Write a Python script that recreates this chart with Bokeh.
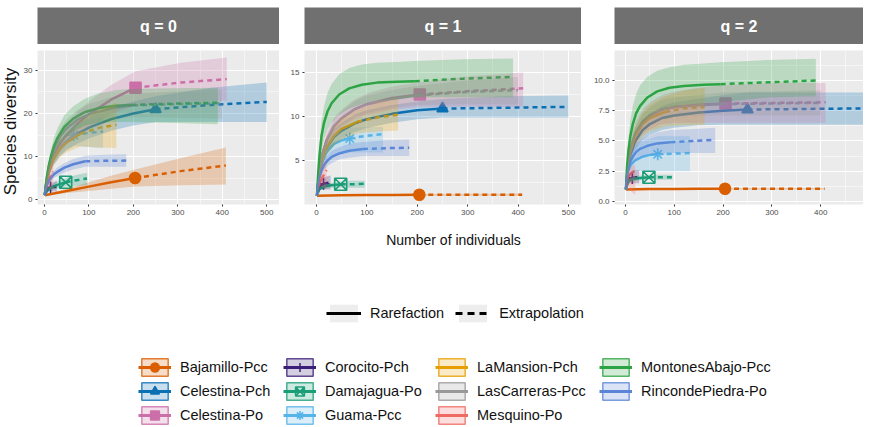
import math
from bokeh.plotting import figure
from bokeh.layouts import row, column
from bokeh.models import (Range1d, FixedTicker, NumeralTickFormatter, Label,
                          Legend, LegendItem, Spacer)
from bokeh.embed import file_html
from bokeh.resources import INLINE

FONT = "Liberation Sans"

# ---------------- data ----------------
site_names = ["Bajamillo-Pcc", "Celestina-Pch", "Celestina-Po", "Corocito-Pch",
              "Damajagua-Po", "Guama-Pcc", "LaMansion-Pch", "LasCarreras-Pcc",
              "Mesquino-Po", "MontonesAbajo-Pcc", "RincondePiedra-Po"]
site_colors = ["#D95F02", "#0B6FB3", "#CC6FA8", "#3B1F78", "#1B9E77", "#56B4E9",
               "#E69F00", "#999999", "#EF6A63", "#2CA443", "#5B84D6"]
site_markers = ["circle", "triangle", "square", "cross", "square_x", "asterisk",
                None, None, None, None, None]
n_observed = [204, 250, 205, 14, 48, 66, 81, 200, 10, 195, 92]

bajamillo_m = [1, 50, 100, 150, 204, 306, 408]
bajamillo_q0 = [1, 2.0, 3.0, 4.0, 5.0, 6.6, 7.9]
bajamillo_q0_lo = [1, 1.5, 2.0, 2.5, 3.0, 3.3, 3.5]
bajamillo_q0_hi = [1, 2.5, 4.0, 5.5, 7.0, 9.6, 12.1]
bajamillo_q1 = [1, 1.05, 1.07, 1.09, 1.1, 1.1, 1.1]
bajamillo_q1_lo = [1, 1.0, 1.0, 1.0, 1.0, 1.0, 1.0]
bajamillo_q1_hi = [1, 1.1, 1.14, 1.17, 1.2, 1.22, 1.24]
bajamillo_q2 = [1, 1.03, 1.04, 1.05, 1.05, 1.05, 1.05]
bajamillo_q2_lo = [1, 1.0, 1.0, 1.0, 1.0, 1.0, 1.0]
bajamillo_q2_hi = [1, 1.06, 1.08, 1.1, 1.1, 1.11, 1.12]

celpch_m = [1, 5, 10, 20, 35, 50, 75, 100, 150, 200, 250, 375, 500]
celpch_q0 = [1, 4.0, 6.5, 9.5, 12.0, 13.5, 15.3, 16.7, 18.7, 20.0, 21.0, 22.0, 22.7]
celpch_q0_lo = [1, 3.3, 5.5, 8.0, 10.2, 11.5, 13.0, 14.2, 16.0, 17.2, 18.0, 18.0, 18.0]
celpch_q0_hi = [1, 4.7, 7.5, 11.0, 13.8, 15.5, 17.6, 19.2, 21.4, 22.8, 24.0, 26.0, 27.2]
celpch_q1 = [1, 3.3, 4.8, 6.4, 7.7, 8.4, 9.2, 9.7, 10.3, 10.7, 10.9, 11.0, 11.1]
celpch_q1_lo = [1, 2.9, 4.2, 5.6, 6.8, 7.5, 8.2, 8.7, 9.3, 9.7, 9.9, 9.9, 9.9]
celpch_q1_hi = [1, 3.7, 5.4, 7.2, 8.6, 9.3, 10.2, 10.7, 11.3, 11.7, 12.0, 12.3, 12.4]
celpch_q2 = [1, 2.8, 3.9, 5.0, 5.9, 6.4, 6.9, 7.1, 7.35, 7.5, 7.6, 7.65, 7.7]
celpch_q2_lo = [1, 2.4, 3.3, 4.3, 5.1, 5.5, 5.9, 6.1, 6.3, 6.35, 6.35, 6.35, 6.35]
celpch_q2_hi = [1, 3.2, 4.5, 5.7, 6.7, 7.3, 7.9, 8.2, 8.5, 8.8, 9.0, 9.0, 9.0]

celpo_m = [1, 5, 10, 20, 35, 50, 75, 100, 150, 205, 307, 410]
celpo_q0 = [1, 4.2, 6.8, 10.0, 13.0, 15.0, 17.7, 19.8, 23.2, 26.0, 27.2, 28.0]
celpo_q0_lo = [1, 3.5, 5.7, 8.5, 11.0, 12.8, 15.0, 16.8, 19.8, 22.0, 22.5, 23.0]
celpo_q0_hi = [1, 4.9, 7.9, 11.5, 15.0, 17.2, 20.4, 22.8, 26.6, 29.8, 31.8, 33.0]
celpo_q1 = [1, 3.6, 5.4, 7.3, 8.9, 9.8, 10.8, 11.4, 12.1, 12.5, 12.9, 13.2]
celpo_q1_lo = [1, 3.2, 4.8, 6.5, 7.9, 8.8, 9.7, 10.2, 10.8, 11.1, 11.1, 11.1]
celpo_q1_hi = [1, 4.0, 6.0, 8.1, 9.9, 10.8, 11.9, 12.6, 13.4, 13.9, 14.6, 15.0]
celpo_q2 = [1, 3.0, 4.3, 5.6, 6.6, 7.1, 7.6, 7.8, 8.0, 8.1, 8.15, 8.2]
celpo_q2_lo = [1, 2.5, 3.6, 4.7, 5.6, 6.0, 6.4, 6.5, 6.5, 6.5, 6.5, 6.5]
celpo_q2_hi = [1, 3.5, 5.0, 6.5, 7.6, 8.2, 8.8, 9.1, 9.4, 9.6, 9.8, 9.8]

corocito_m = [1, 4, 7, 10, 14, 21, 28]
corocito_q0 = [1, 1.8, 2.3, 2.6, 2.8, 3.0, 3.1]
corocito_q0_lo = [1, 1.3, 1.7, 1.9, 2.0, 1.9, 1.8]
corocito_q0_hi = [1, 2.3, 2.9, 3.3, 3.6, 4.1, 4.4]
corocito_q1 = [1, 1.7, 2.0, 2.2, 2.35, 2.45, 2.5]
corocito_q1_lo = [1, 1.4, 1.6, 1.7, 1.7, 1.7, 1.7]
corocito_q1_hi = [1, 2.0, 2.5, 2.8, 3.0, 3.2, 3.3]
corocito_q2 = [1, 1.6, 1.8, 1.9, 1.95, 2.0, 2.0]
corocito_q2_lo = [1, 1.3, 1.45, 1.5, 1.5, 1.5, 1.5]
corocito_q2_hi = [1, 1.9, 2.2, 2.4, 2.5, 2.6, 2.6]

damajagua_m = [1, 5, 10, 20, 30, 48, 72, 96]
damajagua_q0 = [1, 1.9, 2.4, 3.0, 3.4, 4.0, 4.5, 4.9]
damajagua_q0_lo = [1, 1.5, 1.9, 2.3, 2.6, 3.0, 3.2, 3.3]
damajagua_q0_hi = [1, 2.3, 2.9, 3.7, 4.2, 5.0, 5.7, 6.2]
damajagua_q1 = [1, 1.7, 1.9, 2.1, 2.2, 2.3, 2.3, 2.35]
damajagua_q1_lo = [1, 1.5, 1.7, 1.8, 1.9, 1.9, 1.9, 1.9]
damajagua_q1_hi = [1, 1.9, 2.2, 2.4, 2.5, 2.6, 2.7, 2.7]
damajagua_q2 = [1, 1.6, 1.8, 1.9, 1.95, 2.0, 2.0, 2.0]
damajagua_q2_lo = [1, 1.45, 1.6, 1.7, 1.75, 1.8, 1.8, 1.8]
damajagua_q2_hi = [1, 1.75, 2.0, 2.1, 2.15, 2.2, 2.2, 2.2]

guama_m = [1, 5, 10, 20, 35, 50, 66, 99, 132]
guama_q0 = [1, 4.0, 6.3, 9.2, 11.8, 13.6, 15.0, 15.5, 15.8]
guama_q0_lo = [1, 3.4, 5.4, 7.9, 10.1, 11.5, 12.5, 12.2, 12.0]
guama_q0_hi = [1, 4.6, 7.2, 10.5, 13.5, 15.7, 17.5, 18.5, 19.2]
guama_q1 = [1, 3.3, 4.7, 6.0, 6.9, 7.3, 7.5, 7.8, 8.0]
guama_q1_lo = [1, 2.9, 4.0, 5.0, 5.6, 5.8, 5.9, 5.9, 5.9]
guama_q1_hi = [1, 3.7, 5.4, 7.0, 8.0, 8.5, 8.7, 8.8, 8.8]
guama_q2 = [1, 2.5, 3.0, 3.4, 3.7, 3.85, 3.9, 3.95, 4.0]
guama_q2_lo = [1, 2.1, 2.4, 2.5, 2.5, 2.5, 2.5, 2.5, 2.5]
guama_q2_hi = [1, 2.9, 3.8, 4.5, 5.0, 5.2, 5.4, 5.4, 5.4]

lamansion_m = [1, 5, 10, 20, 35, 50, 81, 121, 162]
lamansion_q0 = [1, 4.0, 6.5, 9.3, 11.8, 13.3, 15.3, 16.6, 17.4]
lamansion_q0_lo = [1, 3.3, 5.4, 7.8, 9.8, 11.0, 12.3, 12.1, 12.0]
lamansion_q0_hi = [1, 4.7, 7.6, 10.8, 13.8, 15.6, 18.3, 20.8, 22.5]
lamansion_q1 = [1, 3.3, 4.9, 6.5, 7.8, 8.6, 9.4, 9.9, 10.2]
lamansion_q1_lo = [1, 2.9, 4.3, 5.7, 6.8, 7.4, 8.1, 8.3, 8.4]
lamansion_q1_hi = [1, 3.7, 5.5, 7.3, 8.8, 9.8, 10.8, 11.6, 12.0]
lamansion_q2 = [1, 2.9, 4.1, 5.4, 6.4, 6.9, 7.4, 7.7, 7.8]
lamansion_q2_lo = [1, 2.5, 3.5, 4.6, 5.4, 5.8, 6.2, 6.3, 6.35]
lamansion_q2_hi = [1, 3.3, 4.7, 6.2, 7.4, 8.0, 8.7, 9.2, 9.4]

lascarreras_m = [1, 5, 10, 20, 35, 50, 75, 100, 150, 200, 300, 400]
lascarreras_q0 = [1, 4.8, 7.8, 11.4, 14.6, 16.5, 18.6, 19.8, 21.2, 21.9, 22.2, 22.4]
lascarreras_q0_lo = [1, 4.2, 6.8, 10.0, 12.8, 14.4, 16.3, 17.4, 18.6, 19.2, 19.0, 18.8]
lascarreras_q0_hi = [1, 5.4, 8.8, 12.8, 16.4, 18.6, 20.9, 22.2, 23.8, 24.6, 25.2, 25.6]
lascarreras_q1 = [1, 3.6, 5.4, 7.3, 8.9, 9.8, 10.8, 11.4, 12.0, 12.4, 12.8, 13.0]
lascarreras_q1_lo = [1, 3.3, 5.0, 6.8, 8.2, 9.0, 9.9, 10.4, 11.0, 11.3, 11.4, 11.4]
lascarreras_q1_hi = [1, 3.9, 5.8, 7.8, 9.6, 10.6, 11.7, 12.4, 13.0, 13.5, 14.1, 14.5]
lascarreras_q2 = [1, 3.0, 4.3, 5.6, 6.6, 7.1, 7.6, 7.8, 7.95, 8.05, 8.1, 8.15]
lascarreras_q2_lo = [1, 2.7, 3.9, 5.1, 6.0, 6.4, 6.8, 7.0, 7.1, 7.1, 7.1, 7.1]
lascarreras_q2_hi = [1, 3.3, 4.7, 6.1, 7.2, 7.8, 8.4, 8.6, 8.8, 9.0, 9.1, 9.2]

mesquino_m = [1, 3, 6, 10, 15, 20]
mesquino_q0 = [1, 2.4, 3.6, 4.5, 5.6, 6.5]
mesquino_q0_lo = [1, 1.7, 2.3, 2.6, 2.2, 1.6]
mesquino_q0_hi = [1, 3.1, 4.9, 6.4, 8.2, 9.8]
mesquino_q1 = [1, 2.0, 2.5, 2.9, 3.4, 3.9]
mesquino_q1_lo = [1, 1.6, 1.9, 2.0, 1.9, 1.8]
mesquino_q1_hi = [1, 2.4, 3.1, 3.8, 4.7, 5.6]
mesquino_q2 = [1, 1.8, 2.1, 2.3, 2.45, 2.55]
mesquino_q2_lo = [1, 1.3, 1.2, 0.9, 0.7, 0.55]
mesquino_q2_hi = [1, 2.2, 2.6, 2.8, 3.0, 3.0]

montones_m = [1, 3, 6, 10, 15, 22, 30, 45, 65, 90, 120, 160, 195, 292, 390]
montones_q0 = [1, 3.0, 5.3, 7.8, 10.1, 12.5, 14.4, 16.9, 18.8, 20.3, 21.2, 21.8, 22.0, 22.3, 22.5]
montones_q0_lo = [1, 2.6, 4.5, 6.6, 8.5, 10.5, 12.1, 14.2, 15.9, 17.2, 17.8, 18.0, 18.0, 17.8, 17.5]
montones_q0_hi = [1, 3.4, 6.1, 9.0, 11.7, 14.5, 16.7, 19.6, 21.7, 23.4, 24.6, 25.4, 25.7, 25.9, 26.0]
montones_q1 = [1, 3.3, 5.6, 7.8, 9.3, 10.6, 11.5, 12.5, 13.2, 13.6, 13.85, 13.95, 14.0, 14.3, 14.5]
montones_q1_lo = [1, 2.6, 4.4, 6.1, 7.4, 8.5, 9.3, 10.2, 10.9, 11.4, 11.8, 12.0, 12.2, 12.2, 12.2]
montones_q1_hi = [1, 4.0, 6.8, 9.5, 11.2, 12.7, 13.7, 14.8, 15.5, 15.9, 16.1, 16.2, 16.3, 16.5, 16.6]
montones_q2 = [1, 2.8, 4.2, 5.4, 6.4, 7.3, 7.9, 8.6, 9.1, 9.4, 9.55, 9.65, 9.7, 9.85, 10.0]
montones_q2_lo = [1, 2.2, 3.2, 4.1, 4.9, 5.7, 6.2, 6.9, 7.5, 7.8, 8.0, 8.1, 8.2, 8.6, 8.7]
montones_q2_hi = [1, 3.4, 5.2, 6.7, 7.9, 8.9, 9.6, 10.3, 10.8, 11.1, 11.3, 11.4, 11.5, 11.7, 11.8]

rincon_m = [1, 3, 6, 10, 15, 22, 30, 45, 65, 92, 138, 184]
rincon_q0 = [1, 2.3, 3.4, 4.3, 5.1, 5.9, 6.5, 7.4, 8.2, 8.9, 9.0, 9.05]
rincon_q0_lo = [1, 2.0, 2.9, 3.6, 4.3, 5.0, 5.5, 6.3, 7.0, 7.6, 7.6, 7.6]
rincon_q0_hi = [1, 2.6, 3.9, 5.0, 5.9, 6.8, 7.5, 8.5, 9.4, 10.2, 10.4, 10.5]
rincon_q1 = [1, 2.2, 3.1, 3.9, 4.5, 5.0, 5.4, 5.8, 6.1, 6.3, 6.4, 6.45]
rincon_q1_lo = [1, 1.9, 2.7, 3.4, 3.9, 4.4, 4.7, 5.1, 5.3, 5.5, 5.5, 5.5]
rincon_q1_hi = [1, 2.5, 3.5, 4.4, 5.1, 5.6, 6.1, 6.5, 6.9, 7.1, 7.3, 7.4]
rincon_q2 = [1, 2.0, 2.7, 3.3, 3.7, 4.1, 4.35, 4.6, 4.8, 4.9, 5.0, 5.1]
rincon_q2_lo = [1, 1.7, 2.3, 2.7, 3.1, 3.4, 3.6, 3.8, 3.9, 4.0, 4.0, 4.0]
rincon_q2_hi = [1, 2.3, 3.1, 3.9, 4.4, 4.8, 5.1, 5.4, 5.7, 5.9, 6.0, 6.1]

x_ticks = [0, 100, 200, 300, 400, 500]
x_minor = [50, 150, 250, 350, 450]
q_labels = ["q = 0", "q = 1", "q = 2"]
y_ticks = [[0, 10, 20, 30], [5, 10, 15], [0, 2.5, 5.0, 7.5, 10.0]]
y_minor = [[5, 15, 25], [2.5, 7.5, 12.5], [1.25, 3.75, 6.25, 8.75, 11.25]]
x_title = "Number of individuals"
y_title = "Species diversity"
linetype_labels = ["Rarefaction", "Extrapolation"]

site_m = [bajamillo_m, celpch_m, celpo_m, corocito_m, damajagua_m, guama_m,
          lamansion_m, lascarreras_m, mesquino_m, montones_m, rincon_m]
site_q = [
    [(bajamillo_q0, bajamillo_q0_lo, bajamillo_q0_hi), (bajamillo_q1, bajamillo_q1_lo, bajamillo_q1_hi), (bajamillo_q2, bajamillo_q2_lo, bajamillo_q2_hi)],
    [(celpch_q0, celpch_q0_lo, celpch_q0_hi), (celpch_q1, celpch_q1_lo, celpch_q1_hi), (celpch_q2, celpch_q2_lo, celpch_q2_hi)],
    [(celpo_q0, celpo_q0_lo, celpo_q0_hi), (celpo_q1, celpo_q1_lo, celpo_q1_hi), (celpo_q2, celpo_q2_lo, celpo_q2_hi)],
    [(corocito_q0, corocito_q0_lo, corocito_q0_hi), (corocito_q1, corocito_q1_lo, corocito_q1_hi), (corocito_q2, corocito_q2_lo, corocito_q2_hi)],
    [(damajagua_q0, damajagua_q0_lo, damajagua_q0_hi), (damajagua_q1, damajagua_q1_lo, damajagua_q1_hi), (damajagua_q2, damajagua_q2_lo, damajagua_q2_hi)],
    [(guama_q0, guama_q0_lo, guama_q0_hi), (guama_q1, guama_q1_lo, guama_q1_hi), (guama_q2, guama_q2_lo, guama_q2_hi)],
    [(lamansion_q0, lamansion_q0_lo, lamansion_q0_hi), (lamansion_q1, lamansion_q1_lo, lamansion_q1_hi), (lamansion_q2, lamansion_q2_lo, lamansion_q2_hi)],
    [(lascarreras_q0, lascarreras_q0_lo, lascarreras_q0_hi), (lascarreras_q1, lascarreras_q1_lo, lascarreras_q1_hi), (lascarreras_q2, lascarreras_q2_lo, lascarreras_q2_hi)],
    [(mesquino_q0, mesquino_q0_lo, mesquino_q0_hi), (mesquino_q1, mesquino_q1_lo, mesquino_q1_hi), (mesquino_q2, mesquino_q2_lo, mesquino_q2_hi)],
    [(montones_q0, montones_q0_lo, montones_q0_hi), (montones_q1, montones_q1_lo, montones_q1_hi), (montones_q2, montones_q2_lo, montones_q2_hi)],
    [(rincon_q0, rincon_q0_lo, rincon_q0_hi), (rincon_q1, rincon_q1_lo, rincon_q1_hi), (rincon_q2, rincon_q2_lo, rincon_q2_hi)],
]

# ---------------- layout / style ----------------
STRIP = "#707070"
PANEL_BG = "#EBEBEB"
YT_W = 20
panel_widths = [279 - YT_W, 302, 282]
panel_left = [12, 25, 33]
x_ranges = [(-15.4, 528.6), (-23.8, 525.8), (-22.5, 487.7)]
y_ranges = [(-1.16, 34.65), (0.0, 17.5), (-0.25, 12.48)]
DASH = "5 4"
LW = 2.5
RIBBON_ALPHA = 0.25


def style_axis(ax):
    ax.axis_line_color = None
    ax.major_tick_line_color = "#333333"
    ax.major_tick_out = 2
    ax.major_tick_in = 0
    ax.minor_tick_line_color = None
    ax.major_label_text_font = FONT
    ax.major_label_text_font_size = "8px"
    ax.major_label_text_color = "#4d4d4d"
    ax.major_label_standoff = 1


def make_panel(k):
    p = figure(width=panel_widths[k], height=176, output_backend="svg",
               toolbar_location=None,
               x_range=Range1d(*x_ranges[k]), y_range=Range1d(*y_ranges[k]),
               min_border_left=panel_left[k], min_border_right=0,
               min_border_top=6, min_border_bottom=16,
               background_fill_color=PANEL_BG, border_fill_color="white",
               outline_line_color=None)
    xt = FixedTicker(ticks=x_ticks, minor_ticks=x_minor)
    yt = FixedTicker(ticks=y_ticks[k], minor_ticks=y_minor[k])
    p.xaxis.ticker = xt
    p.yaxis.ticker = yt
    p.xgrid.ticker = xt
    p.ygrid.ticker = yt
    if k == 2:
        p.yaxis.formatter = NumeralTickFormatter(format="0.0")
    style_axis(p.xaxis[0])
    style_axis(p.yaxis[0])
    for g in (p.xgrid[0], p.ygrid[0]):
        g.grid_line_color = "white"
        g.grid_line_width = 1.1
        g.minor_grid_line_color = "white"
        g.minor_grid_line_width = 0.5

    # layer 1: observed points
    for i, name in enumerate(site_names):
        mk = site_markers[i]
        if mk is None:
            continue
        m = site_m[i]
        y = site_q[i][k][0]
        j = m.index(n_observed[i])
        c = site_colors[i]
        filled = mk in ("circle", "triangle", "square")
        p.scatter(x=[m[j]], y=[y[j]], marker=mk, size=11 if filled else 12,
                  fill_color=c if filled else None, line_color=c,
                  line_width=1.6)
    # layer 2: lines
    for i, name in enumerate(site_names):
        m = site_m[i]
        y = site_q[i][k][0]
        j = m.index(n_observed[i])
        c = site_colors[i]
        p.line(x=m[:j + 1], y=y[:j + 1], line_color=c, line_width=LW)
        p.line(x=m[j:], y=y[j:], line_color=c, line_width=LW, line_dash=DASH)
    # layer 3: confidence ribbons
    for i, name in enumerate(site_names):
        m = site_m[i]
        _, lo, hi = site_q[i][k]
        p.varea(x=m, y1=lo, y2=hi, fill_color=site_colors[i],
                fill_alpha=RIBBON_ALPHA)
    return p


def make_strip(k):
    s = figure(width=panel_widths[k], height=37, output_backend="svg",
               toolbar_location=None, x_axis_type=None, y_axis_type=None,
               x_range=Range1d(0, 1), y_range=Range1d(0, 1),
               min_border_left=panel_left[k], min_border_right=0,
               min_border_top=0, min_border_bottom=0,
               background_fill_color=STRIP, border_fill_color="white",
               outline_line_color=None)
    s.add_layout(Label(x=0.5, y=0.5, text=q_labels[k], text_align="center",
                       text_baseline="middle", text_color="white",
                       text_font=FONT, text_font_style="bold",
                       text_font_size="16px"))
    return s


# y-axis title column
yt_fig = figure(width=YT_W, height=213, output_backend="svg", toolbar_location=None,
                x_axis_type=None, y_axis_type=None,
                x_range=Range1d(0, 1), y_range=Range1d(0, 1),
                min_border=0, outline_line_color=None,
                background_fill_color="white", border_fill_color="white")
yt_fig.add_layout(Label(x=YT_W / 2, y=89, x_units="screen", y_units="screen",
                        text=y_title, angle=math.pi / 2, text_align="center",
                        text_baseline="middle", text_color="#111111",
                        text_font=FONT, text_font_size="17px"))

top = row(yt_fig,
          column(make_strip(0), make_panel(0)),
          column(make_strip(1), make_panel(1)),
          column(make_strip(2), make_panel(2)))

# ---------------- bottom: x title + legends ----------------
LG_H = 207
lg = figure(width=863, height=LG_H, output_backend="svg", toolbar_location=None,
            x_axis_type=None, y_axis_type=None,
            x_range=Range1d(0, 863), y_range=Range1d(0, LG_H),
            min_border=0, outline_line_color=None,
            background_fill_color="white", border_fill_color="white")
lg.add_layout(Label(x=453, y=188, x_units="screen", y_units="screen",
                    text=x_title, text_align="center", text_baseline="middle",
                    text_color="#111111", text_font=FONT,
                    text_font_size="14px"))

NAN = float("nan")


def legend_common(leg):
    leg.label_text_font = FONT
    leg.label_text_font_size = "14.5px"
    leg.label_text_color = "#111111"
    leg.label_standoff = 9
    leg.glyph_width = 33
    leg.glyph_height = 22
    leg.spacing = 2
    leg.padding = 0
    leg.margin = 0
    leg.border_line_color = None
    leg.background_fill_alpha = 0
    return leg


key_bg = lg.quad(left=[NAN], right=[NAN], top=[NAN], bottom=[NAN],
                 fill_color="#EDEDED", line_color=None)
solid_r = lg.line(x=[NAN], y=[NAN], line_color="black", line_width=3)
dash_r = lg.line(x=[NAN], y=[NAN], line_color="black", line_width=3,
                 line_dash="7 5")
lt_leg = legend_common(Legend(
    items=[LegendItem(label=linetype_labels[0], renderers=[key_bg, solid_r]),
           LegendItem(label=linetype_labels[1], renderers=[key_bg, dash_r])],
    orientation="horizontal", location=(326, 103)))
lt_leg.spacing = 11
lt_leg.glyph_width = 35
lg.add_layout(lt_leg)

site_items = []
for i, name in enumerate(site_names):
    c = site_colors[i]
    rs = [lg.quad(left=[NAN], right=[NAN], top=[NAN], bottom=[NAN],
                  fill_color=c, fill_alpha=0.22, line_color=c, line_width=1.5,
                  line_alpha=0.8),
          lg.line(x=[NAN], y=[NAN], line_color=c, line_width=3)]
    mk = site_markers[i]
    if mk is not None:
        filled = mk in ("circle", "triangle", "square")
        rs.append(lg.scatter(x=[NAN], y=[NAN], marker=mk,
                             fill_color=c if filled else None, line_color=c,
                             line_width=1.5))
    site_items.append(LegendItem(label=name, renderers=rs))

col_x = [138, 283, 435, 599]
col_groups = [site_items[0:3], site_items[3:6], site_items[6:9], site_items[9:11]]
col_y = [1, 1, 1, 25]
for gx, grp, gy in zip(col_x, col_groups, col_y):
    lg.add_layout(legend_common(Legend(items=grp, orientation="vertical",
                                       location=(gx, gy))))

page = column(Spacer(width=863, height=7), top, lg)
open("out.html", "w").write(file_html(page, INLINE))
